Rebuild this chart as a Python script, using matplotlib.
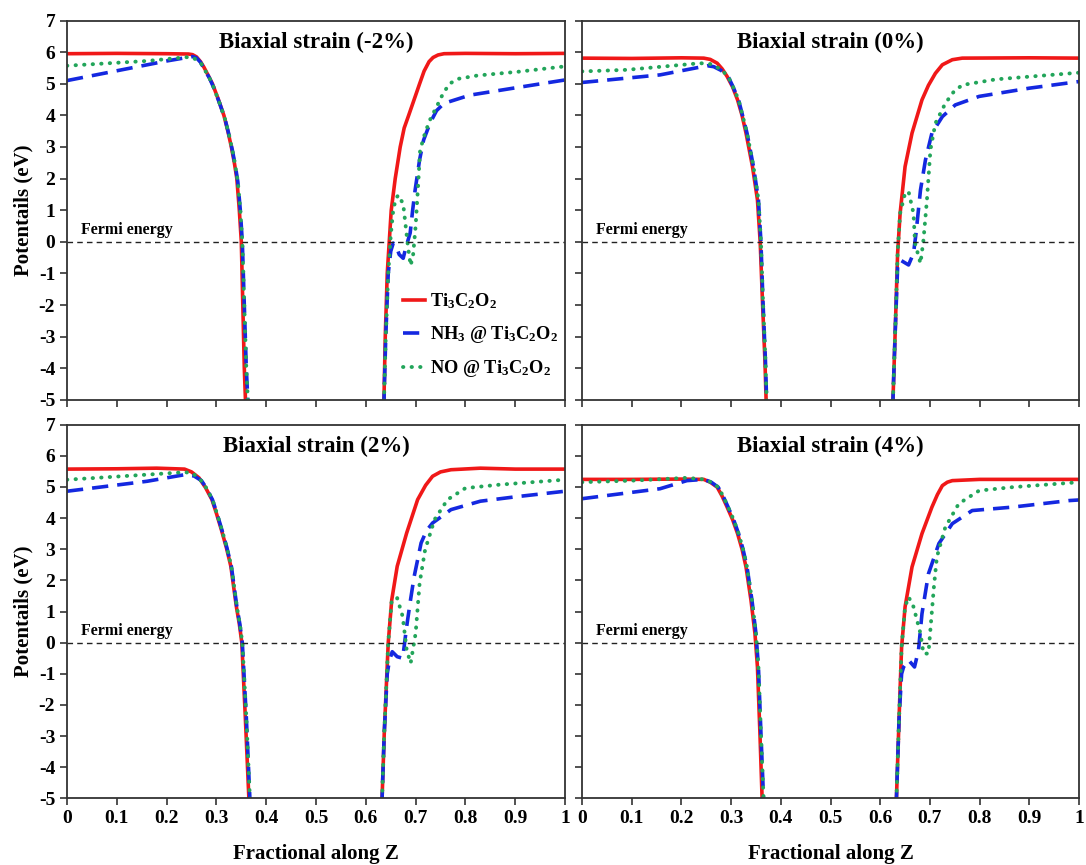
import numpy as np
import matplotlib
matplotlib.use('Agg')
import matplotlib.pyplot as plt

plt.rcParams['font.family'] = 'Liberation Serif'
plt.rcParams['font.weight'] = 'bold'
plt.rcParams['mathtext.default'] = 'regular'
plt.rcParams['axes.unicode_minus'] = False

nan = np.nan

# ---- Biaxial strain (-2%) ----
ti_x_m2 = [0.00, 0.10, 0.20, 0.244, 0.252, 0.260, 0.268, 0.275, 0.283, 0.292, 0.304, 0.315, 0.323, 0.330, 0.336, 0.341, 0.346, 0.350, 0.353, 0.356, 0.359,
           0.50, 0.636, 0.639, 0.643, 0.647, 0.651, 0.659, 0.669, 0.677, 0.686, 0.697, 0.708, 0.717, 0.727, 0.735, 0.745, 0.757, 0.80, 0.90, 1.00]
ti_y_m2 = [5.95, 5.96, 5.95, 5.94, 5.92, 5.85, 5.70, 5.52, 5.28, 5.00, 4.50, 4.00, 3.50, 3.00, 2.50, 2.00, 1.00, 0.00, -2.00, -4.00, -5.3,
           nan, -5.3, -3.0, -1.0, 0.0, 1.0, 2.0, 3.0, 3.6, 4.0, 4.5, 5.0, 5.4, 5.7, 5.83, 5.91, 5.95, 5.96, 5.95, 5.96]
nh3_x_m2 = [0.00, 0.10, 0.20, 0.252, 0.260, 0.268, 0.278, 0.286, 0.294, 0.306, 0.317, 0.325, 0.332, 0.338, 0.343, 0.348, 0.352, 0.356, 0.360, 0.364,
            0.50, 0.636, 0.640, 0.645, 0.650, 0.655, 0.660, 0.667, 0.675, 0.680, 0.689, 0.694, 0.699, 0.708, 0.716, 0.729, 0.742, 0.757, 0.809, 0.90, 1.00]
nh3_y_m2 = [5.10, 5.41, 5.72, 5.86, 5.82, 5.68, 5.40, 5.18, 4.90, 4.40, 3.90, 3.40, 2.90, 2.40, 1.90, 1.00, 0.00, -2.00, -4.00, -5.3,
            nan, -5.3, -3.0, -1.0, -0.3, -0.04, -0.1, -0.4, -0.52, -0.2, 0.28, 1.0, 1.64, 2.6, 3.22, 3.76, 4.15, 4.38, 4.64, 4.87, 5.12]
no_x_m2 = [0.00, 0.16, 0.24, 0.254, 0.262, 0.270, 0.278, 0.286, 0.294, 0.306, 0.317, 0.325, 0.332, 0.338, 0.343, 0.348, 0.352, 0.356, 0.360, 0.364,
           0.50, 0.636, 0.640, 0.645, 0.650, 0.655, 0.660, 0.665, 0.675, 0.680, 0.685, 0.690, 0.695, 0.700, 0.705, 0.709, 0.719, 0.730, 0.742, 0.757, 0.770, 0.787, 0.824, 0.906, 1.00]
no_y_m2 = [5.57, 5.72, 5.84, 5.82, 5.72, 5.62, 5.40, 5.18, 4.90, 4.40, 3.90, 3.40, 2.90, 2.40, 1.90, 1.00, 0.00, -2.00, -4.00, -5.3,
           nan, -5.3, -3.0, -1.0, 0.2, 1.0, 1.35, 1.48, 1.2, 0.5, -0.2, -0.75, -0.4, 0.5, 1.8, 2.9, 3.45, 3.9, 4.27, 4.75, 5.02, 5.16, 5.26, 5.38, 5.55]

# ---- Biaxial strain (0%) ----
ti_x_0 = [0.00, 0.10, 0.20, 0.245, 0.258, 0.272, 0.282, 0.292, 0.303, 0.313, 0.322, 0.330, 0.343, 0.353, 0.3585, 0.363, 0.368, 0.371,
          0.50, 0.625, 0.630, 0.635, 0.640, 0.650, 0.664, 0.684, 0.697, 0.711, 0.725, 0.745, 0.765, 0.90, 1.00]
ti_y_0 = [5.81, 5.80, 5.82, 5.81, 5.77, 5.65, 5.47, 5.23, 4.90, 4.49, 4.00, 3.44, 2.38, 1.33, 0.00, -1.84, -3.73, -5.3,
          nan, -5.3, -2.89, -0.36, 0.90, 2.38, 3.44, 4.49, 4.95, 5.33, 5.60, 5.76, 5.81, 5.82, 5.81]
nh3_x_0 = [0.00, 0.157, 0.252, 0.265, 0.280, 0.294, 0.304, 0.315, 0.323, 0.332, 0.345, 0.355, 0.360, 0.364, 0.369, 0.372,
           0.50, 0.625, 0.630, 0.635, 0.640, 0.657, 0.667, 0.672, 0.681, 0.691, 0.704, 0.725, 0.751, 0.799, 0.90, 1.00]
nh3_y_0 = [5.04, 5.28, 5.57, 5.54, 5.42, 5.23, 4.90, 4.49, 4.00, 3.44, 2.38, 1.33, 0.00, -1.84, -3.73, -5.3,
           nan, -5.3, -2.89, -0.80, -0.57, -0.73, -0.36, 0.27, 1.64, 2.59, 3.44, 3.96, 4.33, 4.60, 4.86, 5.07]
no_x_0 = [0.00, 0.09, 0.238, 0.260, 0.280, 0.294, 0.304, 0.315, 0.323, 0.332, 0.345, 0.355, 0.360, 0.364, 0.369, 0.372,
          0.50, 0.625, 0.630, 0.635, 0.640, 0.650, 0.657, 0.667, 0.670, 0.681, 0.687, 0.694, 0.701, 0.711, 0.731, 0.748, 0.765, 0.833, 1.00]
no_y_0 = [5.39, 5.44, 5.65, 5.62, 5.45, 5.23, 4.90, 4.49, 4.00, 3.44, 2.38, 1.33, 0.00, -1.84, -3.73, -5.3,
          nan, -5.3, -2.89, -0.36, 0.90, 1.54, 1.59, 0.90, -0.04, -0.68, 0.06, 1.33, 2.91, 3.75, 4.38, 4.75, 4.96, 5.14, 5.35]

# ---- Biaxial strain (2%) ----
ti_x_2 = [0.00, 0.10, 0.18, 0.236, 0.250, 0.265, 0.278, 0.291, 0.300, 0.310, 0.320, 0.329, 0.340, 0.346, 0.351, 0.358, 0.366,
          0.50, 0.632, 0.637, 0.645, 0.652, 0.663, 0.682, 0.704, 0.720, 0.734, 0.750, 0.771, 0.83, 0.90, 1.00]
ti_y_2 = [5.57, 5.58, 5.60, 5.57, 5.48, 5.29, 4.98, 4.59, 4.15, 3.62, 3.05, 2.45, 1.16, 0.60, 0.00, -2.38, -5.3,
          nan, -5.3, -2.90, 0.00, 1.37, 2.45, 3.52, 4.59, 5.05, 5.34, 5.48, 5.55, 5.60, 5.57, 5.57]
nh3_x_2 = [0.00, 0.161, 0.236, 0.255, 0.270, 0.280, 0.292, 0.301, 0.311, 0.321, 0.330, 0.341, 0.347, 0.352, 0.360, 0.368,
           0.50, 0.632, 0.637, 0.643, 0.647, 0.653, 0.663, 0.674, 0.682, 0.690, 0.697, 0.711, 0.722, 0.734, 0.771, 0.83, 0.90, 1.00]
nh3_y_2 = [4.86, 5.18, 5.39, 5.35, 5.20, 4.96, 4.59, 4.15, 3.62, 3.05, 2.45, 1.16, 0.60, 0.00, -2.38, -5.3,
           nan, -5.3, -2.90, -1.00, -0.60, -0.29, -0.45, -0.50, 0.52, 1.40, 2.12, 3.20, 3.60, 3.84, 4.27, 4.54, 4.68, 4.86]
no_x_2 = [0.00, 0.10, 0.236, 0.250, 0.265, 0.280, 0.292, 0.301, 0.311, 0.321, 0.330, 0.341, 0.347, 0.352, 0.360, 0.368,
          0.50, 0.632, 0.637, 0.645, 0.652, 0.663, 0.674, 0.682, 0.690, 0.700, 0.708, 0.719, 0.738, 0.764, 0.80, 0.868, 1.00]
no_y_2 = [5.23, 5.33, 5.47, 5.45, 5.29, 4.96, 4.59, 4.15, 3.62, 3.05, 2.45, 1.16, 0.60, 0.00, -2.38, -5.3,
          nan, -5.3, -2.90, 0.00, 1.37, 1.43, 0.84, -0.23, -0.66, 0.30, 1.91, 2.98, 3.95, 4.59, 4.96, 5.07, 5.23]

# ---- Biaxial strain (4%) ----
ti_x_4 = [0.00, 0.10, 0.20, 0.245, 0.258, 0.272, 0.282, 0.292, 0.303, 0.313, 0.322, 0.330, 0.340, 0.348, 0.353, 0.358, 0.363,
          0.50, 0.632, 0.638, 0.643, 0.650, 0.664, 0.684, 0.704, 0.715, 0.725, 0.735, 0.745, 0.80, 1.00]
ti_y_4 = [5.24, 5.24, 5.25, 5.24, 5.15, 4.99, 4.70, 4.35, 3.95, 3.50, 3.00, 2.43, 1.36, 0.29, -0.78, -2.91, -5.3,
          nan, -5.3, -2.38, -0.14, 1.15, 2.43, 3.50, 4.35, 4.75, 5.04, 5.15, 5.20, 5.24, 5.24]
nh3_x_4 = [0.00, 0.157, 0.211, 0.245, 0.260, 0.274, 0.284, 0.294, 0.305, 0.315, 0.324, 0.332, 0.342, 0.350, 0.355, 0.360, 0.366,
           0.50, 0.632, 0.638, 0.643, 0.647, 0.657, 0.669, 0.677, 0.684, 0.697, 0.718, 0.745, 0.785, 0.866, 0.98, 1.00]
nh3_y_4 = [4.62, 4.94, 5.20, 5.24, 5.15, 4.99, 4.70, 4.35, 3.95, 3.50, 3.00, 2.43, 1.36, 0.29, -0.78, -2.91, -5.3,
           nan, -5.3, -2.40, -1.00, -0.78, -0.56, -0.78, -0.24, 0.93, 2.21, 3.18, 3.82, 4.24, 4.35, 4.56, 4.58]
no_x_4 = [0.00, 0.10, 0.15, 0.211, 0.245, 0.260, 0.274, 0.284, 0.294, 0.305, 0.315, 0.324, 0.332, 0.342, 0.350, 0.355, 0.360, 0.366,
          0.50, 0.632, 0.638, 0.643, 0.650, 0.657, 0.667, 0.681, 0.687, 0.697, 0.708, 0.714, 0.731, 0.758, 0.799, 0.866, 1.00]
no_y_4 = [5.15, 5.20, 5.24, 5.29, 5.24, 5.15, 4.99, 4.70, 4.35, 3.95, 3.50, 3.00, 2.43, 1.36, 0.29, -0.78, -2.91, -5.3,
          nan, -5.3, -2.38, -0.14, 1.15, 1.47, 1.15, 0.29, -0.35, -0.35, 1.79, 2.75, 3.71, 4.46, 4.88, 4.99, 5.15]

titles = ['Biaxial strain (-2%)', 'Biaxial strain (0%)', 'Biaxial strain (2%)', 'Biaxial strain (4%)']
labels = [r'Ti$_3$C$_2$O$_2$', r'NH$_3$ @ Ti$_3$C$_2$O$_2$', r'NO @ Ti$_3$C$_2$O$_2$']
x_ticks = [0, 0.1, 0.2, 0.3, 0.4, 0.5, 0.6, 0.7, 0.8, 0.9, 1]
x_tick_labels = ['0', '0.1', '0.2', '0.3', '0.4', '0.5', '0.6', '0.7', '0.8', '0.9', '1']
y_ticks = [-5, -4, -3, -2, -1, 0, 1, 2, 3, 4, 5, 6, 7]

panels = [
    (ti_x_m2, ti_y_m2, nh3_x_m2, nh3_y_m2, no_x_m2, no_y_m2),
    (ti_x_0, ti_y_0, nh3_x_0, nh3_y_0, no_x_0, no_y_0),
    (ti_x_2, ti_y_2, nh3_x_2, nh3_y_2, no_x_2, no_y_2),
    (ti_x_4, ti_y_4, nh3_x_4, nh3_y_4, no_x_4, no_y_4),
]

red = '#f01818'
blue = '#1428e0'
green = '#22a55a'

fig = plt.figure(figsize=(10.86, 8.65), dpi=100)
boxes = [
    [0.0617, 0.5376, 0.4586, 0.4387],
    [0.5359, 0.5376, 0.4577, 0.4387],
    [0.0617, 0.0769, 0.4586, 0.4323],
    [0.5359, 0.0769, 0.4577, 0.4323],
]

for i, (box, data) in enumerate(zip(boxes, panels)):
    ax = fig.add_axes(box)
    tx, ty, nx, ny, ox, oy = data
    ax.plot(tx, ty, color=red, lw=2.6, label=labels[0])
    ax.plot(nx, ny, color=blue, lw=2.6, linestyle=(0, (4.5, 2.5)), label=labels[1])
    ax.plot(ox, oy, color=green, lw=2.8, linestyle=(0, (0.1, 2.1)), dash_capstyle='round', label=labels[2])
    ax.axhline(0, color='#222222', lw=1.0, linestyle=(0, (4, 3)))
    ax.text(0.028, 0.25, 'Fermi energy', fontsize=11.5, fontweight='bold')
    ax.text(0.5, 6.3, titles[i], fontsize=16.5, fontweight='bold', ha='center', va='center')

    ax.set_xlim(0, 1)
    ax.set_ylim(-5, 7)
    ax.set_xticks(x_ticks)
    ax.set_yticks(y_ticks)
    ax.tick_params(direction='out', length=5, width=1.2, color='#333333', labelsize=14)
    for s in ax.spines.values():
        s.set_linewidth(1.3)
        s.set_color('#333333')

    if i < 2:
        ax.set_xticklabels([])
    else:
        ax.set_xticklabels(x_tick_labels)
        ax.set_xlabel('Fractional along Z', fontsize=15, fontweight='bold', labelpad=12)
    if i % 2 == 0:
        ax.set_ylabel('Potentails (eV)', fontsize=15, fontweight='bold', labelpad=4)
    else:
        ax.set_yticklabels([])

    if i == 0:
        ax.legend(loc='upper left', bbox_to_anchor=(0.648, 0.32), frameon=False,
                  prop={'weight': 'bold', 'size': 13.2}, handlelength=1.25,
                  handletextpad=0.25, labelspacing=0.72, borderpad=0.2)

fig.savefig('out.png', dpi=100)
